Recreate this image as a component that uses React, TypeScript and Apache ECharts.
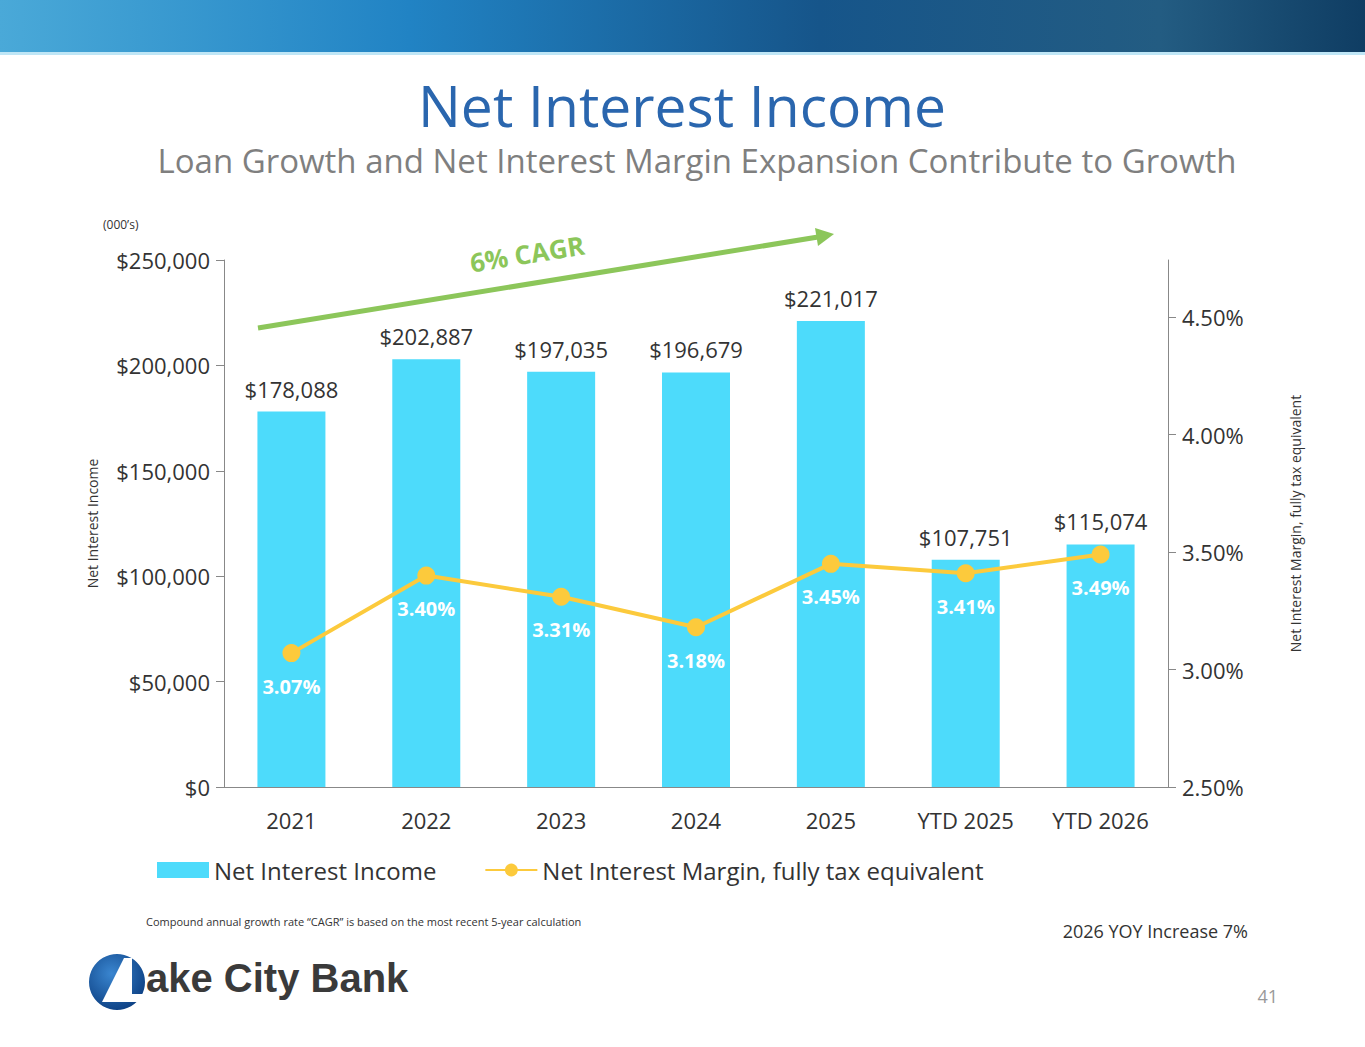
import React, { useEffect, useRef } from "react";
import * as echarts from "echarts";

const categories = ["2021", "2022", "2023", "2024", "2025", "YTD 2025", "YTD 2026"];
const incomeValues = [178088, 202887, 197035, 196679, 221017, 107751, 115074];
const marginValues = [3.07, 3.40, 3.31, 3.18, 3.45, 3.41, 3.49];

const F = "'Open Sans', 'Noto Sans', sans-serif";

export default function App() {
  const ref = useRef<HTMLDivElement>(null);
  useEffect(() => {
    document.body.style.margin = "0";
    const chart = echarts.init(ref.current!, null, { renderer: "svg" });
    chart.setOption({
      animation: false,
      backgroundColor: "#fff",
      textStyle: { fontFamily: F },
      grid: { left: 224, right: 197, top: 260, bottom: 260 },
      legend: {
        bottom: 160, left: 152, itemGap: 48, itemWidth: 52, itemHeight: 16,
        textStyle: { fontSize: 24, color: "#333", fontFamily: F },
        data: [
          { name: "Net Interest Income", icon: "rect" },
          { name: "Net Interest Margin, fully tax equivalent" },
        ],
      },
      xAxis: {
        type: "category", data: categories,
        axisLine: { lineStyle: { color: "#888" } },
        axisTick: { lineStyle: { color: "#888" }, length: 8 },
        axisLabel: { fontSize: 22, color: "#333", margin: 22 },
      },
      yAxis: [
        {
          type: "value", min: 0, max: 250000, interval: 50000,
          name: "Net Interest Income", nameLocation: "middle", nameGap: 125, nameRotate: 90,
          nameTextStyle: { fontSize: 14, color: "#333" },
          axisLine: { show: true, lineStyle: { color: "#888" } },
          axisTick: { show: true, lineStyle: { color: "#888" }, length: 8 },
          splitLine: { show: false },
          axisLabel: { fontSize: 22, color: "#333", margin: 14, formatter: (v: number) => "$" + v.toLocaleString("en-US") },
        },
        {
          type: "value", min: 2.5, max: 4.7436, interval: 0.5, position: "right",
          name: "Net Interest Margin, fully tax equivalent", nameLocation: "middle", nameGap: 120, nameRotate: 90,
          nameTextStyle: { fontSize: 14, color: "#333" },
          axisLine: { show: true, lineStyle: { color: "#888" } },
          axisTick: { show: true, lineStyle: { color: "#888" }, length: 8 },
          splitLine: { show: false },
          axisLabel: { fontSize: 22, color: "#333", margin: 14, showMaxLabel: false, formatter: (v: number) => v.toFixed(2) + "%" },
        },
      ],
      series: [
        {
          name: "Net Interest Income", type: "bar", data: incomeValues, barWidth: 68,
          itemStyle: { color: "#4ddbfb" },
          label: { show: true, position: "top", distance: 12, fontSize: 22, color: "#333", formatter: (p: any) => "$" + p.value.toLocaleString("en-US") },
        },
        {
          name: "Net Interest Margin, fully tax equivalent", type: "line", yAxisIndex: 1, data: marginValues,
          symbol: "circle", symbolSize: 18,
          lineStyle: { color: "#fcca3c", width: 4 }, itemStyle: { color: "#fcca3c" },
          label: { show: true, position: "bottom", distance: 14, fontSize: 20, fontWeight: "bold", color: "#fff", formatter: (p: any) => p.value.toFixed(2) + "%" },
        },
      ],
      graphic: [
        {
          type: "rect", shape: { x: 0, y: 0, width: 1365, height: 52 },
          style: { fill: new echarts.graphic.LinearGradient(0, 0, 1, 0, [
            { offset: 0, color: "#4aa9d8" }, { offset: 0.3, color: "#2183c4" },
            { offset: 0.6, color: "#16558a" }, { offset: 0.85, color: "#235c82" }, { offset: 1, color: "#0f3d63" },
          ]) },
        },
        { type: "rect", shape: { x: 0, y: 52, width: 1365, height: 3 }, style: { fill: "#bfe6f6" } },
        { type: "text", x: 682, y: 76, style: { text: "Net Interest Income", fontSize: 57, fill: "#2a66ae", fontFamily: F, align: "center" } },
        { type: "text", x: 697, y: 144, style: { text: "Loan Growth and Net Interest Margin Expansion Contribute to Growth", fontSize: 33, fill: "#7f7f7f", fontFamily: F, align: "center" } },
        { type: "text", x: 103, y: 218, style: { text: "(000\u2019s)", fontSize: 12, fill: "#333", fontFamily: F } },
        { type: "line", shape: { x1: 258, y1: 328, x2: 818, y2: 237 }, style: { stroke: "#8cc65a", lineWidth: 5 } },
        { type: "polygon", shape: { points: [[834, 234], [815, 228], [818, 246]] }, style: { fill: "#8cc65a" } },
        { type: "text", x: 468, y: 250, rotation: 0.16, style: { text: "6% CAGR", fontSize: 26, fontWeight: "bold", fill: "#8cc65a", fontFamily: F } },
        { type: "text", x: 146, y: 916, style: { text: "Compound annual growth rate \u201cCAGR\u201d is based on the most recent 5-year calculation", fontSize: 11, fill: "#333", fontFamily: F } },
        { type: "text", x: 1248, y: 922, style: { text: "2026 YOY Increase 7%", fontSize: 18, fill: "#333", fontFamily: F, align: "right" } },
        { type: "text", x: 1278, y: 987, style: { text: "41", fontSize: 18, fill: "#999", fontFamily: F, align: "right" } },
        {
          type: "circle", shape: { cx: 117, cy: 982, r: 28 },
          style: { fill: new echarts.graphic.RadialGradient(0.4, 0.35, 0.7, [{ offset: 0, color: "#3a86d0" }, { offset: 1, color: "#0c3f82" }]) },
        },
        { type: "polygon", shape: { points: [[102, 1002], [124, 958], [132, 958], [132, 994], [150, 994], [150, 1002]] }, style: { fill: "#fff" } },
        { type: "text", x: 146, y: 958, style: { text: "ake City Bank", fontSize: 40, fontWeight: "bold", fill: "#3a3a3a", fontFamily: "Arial, 'Liberation Sans', sans-serif", letterSpacing: -2.5 } },
      ],
    });
    return () => chart.dispose();
  }, []);
  return <div ref={ref} style={{ width: 1365, height: 1047 }} />;
}
